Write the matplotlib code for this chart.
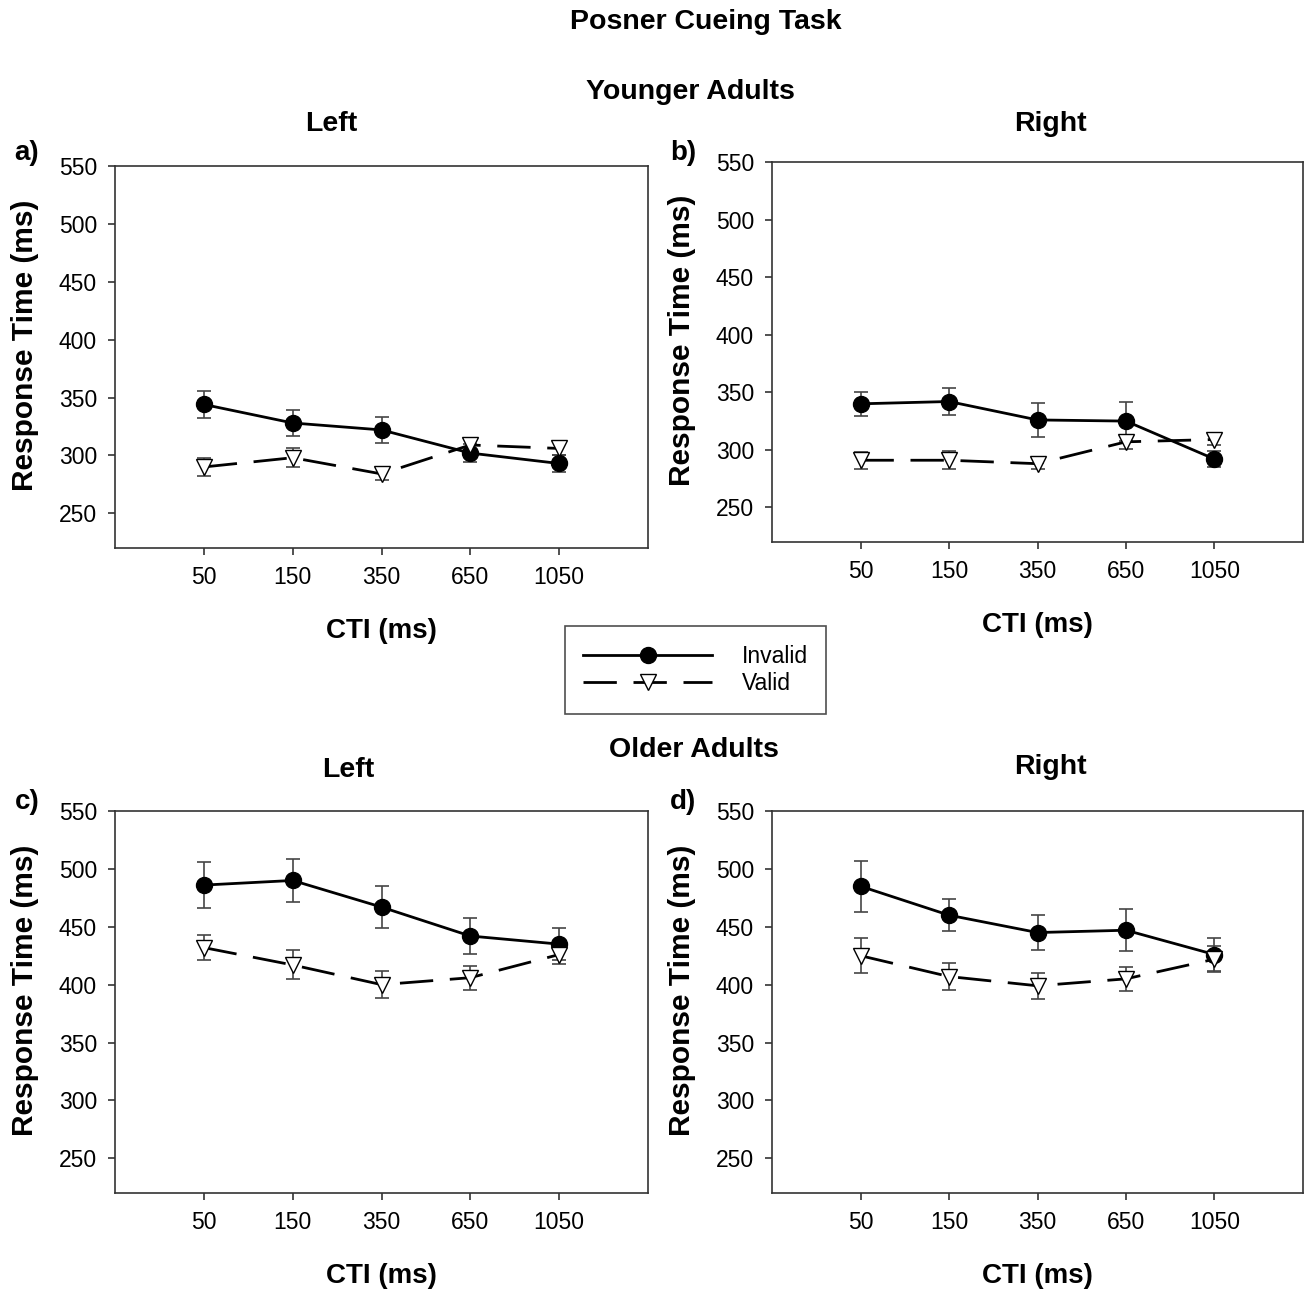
"""
Posner cueing task: response time by CTI, cue validity, side and age group
"""

import matplotlib
matplotlib.use("Agg")
import matplotlib.pyplot as plt
from matplotlib.lines import Line2D

plt.rcParams["font.family"] = ["Liberation Sans", "DejaVu Sans"]

# ---------------- DATA ----------------
cti_labels = ["50", "150", "350", "650", "1050"]

young_left_invalid = [344, 328, 322, 302, 293]
young_left_invalid_se = [12, 11, 11.5, 8, 7]
young_left_valid = [290, 298, 284, 309, 306]
young_left_valid_se = [8, 8, 5, 6, 6]

young_right_invalid = [340, 342, 326, 325, 292]
young_right_invalid_se = [10.5, 12, 15, 17, 7]
young_right_valid = [291, 291, 288, 307, 309]
young_right_valid_se = [7.5, 8, 5, 6, 5]

old_left_invalid = [486, 490, 467, 442, 435]
old_left_invalid_se = [20, 18.5, 18.5, 15.5, 14]
old_left_valid = [432, 417, 400, 406, 426]
old_left_valid_se = [11, 12.5, 11.5, 10.5, 8]

old_right_invalid = [485, 460, 445, 447, 426]
old_right_invalid_se = [22, 14, 15, 18, 14]
old_right_valid = [425, 407, 399, 405, 422]
old_right_valid_se = [15, 12, 11, 10.5, 11]

# ---------------- LAYOUT ----------------
W, H = 1305, 1289
fig = plt.figure(figsize=(W / 100, H / 100), dpi=100)


def px(x, y):
    """pixel position (from top-left) -> figure fraction"""
    return x / W, 1 - y / H


def add_axes(x0, y0, x1, y1):
    return fig.add_axes([x0 / W, 1 - y1 / H, (x1 - x0) / W, (y1 - y0) / H])


INV_STYLE = dict(color="black", lw=2, marker="o", markersize=11.5,
                 markerfacecolor="black", markeredgecolor="black")
VAL_STYLE = dict(color="black", lw=2, dashes=(12, 6), marker="v",
                 markersize=12, markerfacecolor="white",
                 markeredgecolor="black", markeredgewidth=1)
ERR_STYLE = dict(fmt="none", ecolor="#454545", elinewidth=1.2,
                 capsize=4.7, capthick=1.2)


def draw_panel(ax, inv, inv_se, val, val_se):
    x = list(range(len(cti_labels)))
    ax.errorbar(x, inv, yerr=inv_se, zorder=1, **ERR_STYLE)
    ax.errorbar(x, val, yerr=val_se, zorder=1, **ERR_STYLE)
    ax.plot(x, inv, zorder=3, **INV_STYLE)
    ax.plot(x, val, zorder=4, **VAL_STYLE)

    ax.set_xlim(-1, 5)
    ax.set_ylim(220, 550)
    ax.set_xticks(x)
    ax.set_xticklabels(cti_labels)
    ax.set_yticks(range(250, 551, 50))
    ax.tick_params(direction="out", length=5, width=1.2, labelsize=16.5,
                   color="#333333")
    ax.tick_params(axis="x", pad=8)
    ax.tick_params(axis="y", pad=8)
    for sp in ax.spines.values():
        sp.set_linewidth(1.2)
        sp.set_color("#333333")
    ax.set_xlabel("CTI (ms)", fontsize=20, fontweight="bold", labelpad=21)
    ax.set_ylabel("Response Time (ms)", fontsize=21.5, fontweight="bold")
    ax.yaxis.set_label_coords(-0.143, 0.53)


ax_a = add_axes(115, 166, 648, 548)
ax_b = add_axes(772, 162, 1303, 542)
ax_c = add_axes(115, 811, 648, 1193)
ax_d = add_axes(772, 811, 1303, 1193)

draw_panel(ax_a, young_left_invalid, young_left_invalid_se,
           young_left_valid, young_left_valid_se)
draw_panel(ax_b, young_right_invalid, young_right_invalid_se,
           young_right_valid, young_right_valid_se)
draw_panel(ax_c, old_left_invalid, old_left_invalid_se,
           old_left_valid, old_left_valid_se)
draw_panel(ax_d, old_right_invalid, old_right_invalid_se,
           old_right_valid, old_right_valid_se)

# ---------------- TEXT ----------------
bold = dict(fontweight="bold", ha="center", va="center")
fig.text(*px(706, 22), "Posner Cueing Task", fontsize=20.5, **bold)
fig.text(*px(690, 92), "Younger Adults", fontsize=20.5, **bold)
fig.text(*px(694, 750), "Older Adults", fontsize=20.5, **bold)
fig.text(*px(331, 124), "Left", fontsize=20.5, **bold)
fig.text(*px(1050, 124), "Right", fontsize=20.5, **bold)
fig.text(*px(348, 770), "Left", fontsize=20.5, **bold)
fig.text(*px(1050, 767), "Right", fontsize=20.5, **bold)

for lbl, (x, y) in zip(["a)", "b)", "c)", "d)"],
                       [(27, 153), (683, 153), (27, 802), (683, 802)]):
    fig.text(*px(x, y), lbl, fontsize=20, **bold)

# ---------------- LEGEND ----------------
handles = [Line2D([], [], **INV_STYLE), Line2D([], [], **VAL_STYLE)]
leg = fig.legend(handles, ["Invalid", "Valid"], loc="center",
                 bbox_to_anchor=px(695.5, 670), fontsize=16.5,
                 handlelength=5.6, handletextpad=1.3, labelspacing=0.2,
                 borderpad=0.8, borderaxespad=0, frameon=True, fancybox=False)
leg.get_frame().set_edgecolor("#222222")
leg.get_frame().set_linewidth(1.2)

fig.savefig("out.png", dpi=100, facecolor="white")
